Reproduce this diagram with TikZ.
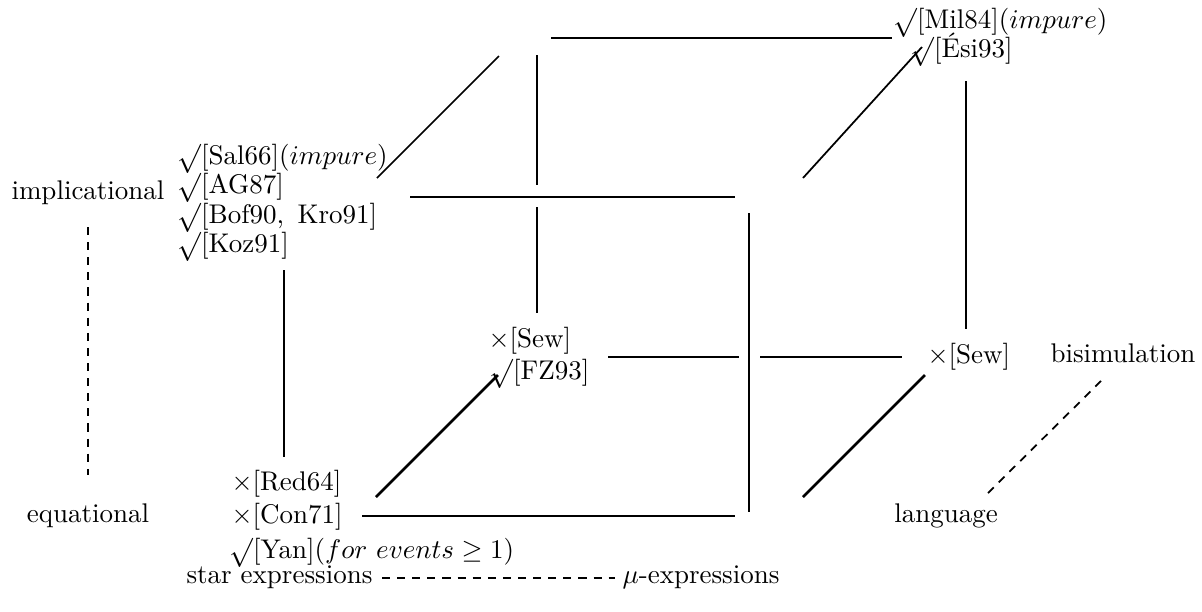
\documentclass[tikz,border=0pt]{standalone}
\usepackage{graphicx}
\newcommand\ck{\raisebox{-0.7pt}{\scalebox{1.05}[1.08]{$\surd$}}}
\begin{document}
\begin{tikzpicture}[x=0.3705pt,y=-0.3705pt,
 lbl/.style={inner sep=0pt, anchor=base west, font=\fontsize{10}{12}\selectfont},
 front/.style={line width=1pt},
 back/.style={line width=0.65pt},
 dsh/.style={line width=0.65pt, dash pattern=on 3pt off 2.6pt}]
\path[use as bounding box] (0,0) rectangle (1202,612);
% labels
\node[lbl, anchor=base] (impl) at (88,199) {implicational};
\node[lbl, anchor=base] (equa) at (88,522) {equational};
\node[lbl] (sal) at (177,164) {\ck[Sal66]$(impure)$};
\node[lbl] (ag) at (177,193) {\ck[AG87]};
\node[lbl] (bof) at (177,223) {\ck[Bof90,\enspace Kro91]};
\node[lbl] (koz) at (177,252) {\ck[Koz91]};
\node[lbl] (red) at (231,490) {$\times$[Red64]};
\node[lbl] (con) at (231,523) {$\times$[Con71]};
\node[lbl] (yan) at (229,558) {\ck[Yan]$(for\ events \geq 1)$};
\node[lbl] (sewm) at (488,347) {$\times$[Sew]};
\node[lbl] (fz) at (489,379) {\ck[FZ93]};
\node[lbl] (mil) at (893,28) {\ck[Mil84]$(impure)$};
\node[lbl] (esi) at (910,57) {\ck[\'Esi93]};
\node[lbl] (sewr) at (927,363) {$\times$[Sew]};
\node[lbl] (bis) at (1050,362) {bisimulation};
\node[lbl, anchor=base] (lang) at (946,522) {language};
\node[lbl, anchor=base east] (star) at (373,583) {star expressions};
\node[lbl] (mu) at (622,583) {$\mu$-expressions};
% endpoints
\coordinate (ftA) at (410,197); \coordinate (ftB) at (735,197);
\coordinate (flA) at (284,270); \coordinate (flB) at (284,457);
\coordinate (frA) at (749,213); \coordinate (frB) at (749,512);
\coordinate (fbA) at (362,516); \coordinate (fbB) at (735,516);
\coordinate (btA) at (551,38);  \coordinate (btB) at (892,38);
\coordinate (blA) at (537,55);  \coordinate (blB) at (537,185);
\coordinate (blC) at (537,207); \coordinate (blD) at (537,313);
\coordinate (brA) at (966,81);  \coordinate (brB) at (966,329);
\coordinate (bbA) at (608,357); \coordinate (bbB) at (739,357);
\coordinate (bbC) at (760,357); \coordinate (bbD) at (902,357);
\coordinate (tlA) at (377,178); \coordinate (tlB) at (499,56);
\coordinate (trA) at (803,178); \coordinate (trB) at (922,47);
\coordinate (dlA) at (376,497); \coordinate (dlB) at (498,375);
\coordinate (drA) at (803,497); \coordinate (drB) at (925,375);
\coordinate (v1) at (88,227); \coordinate (v2) at (88,475);
\coordinate (h1) at (382,578); \coordinate (h2) at (615,578);
\coordinate (d1) at (988,493); \coordinate (d2) at (1103,379);
% cube
\draw[front] (ftA) -- (ftB);
\draw[front] (flA) -- (flB);
\draw[front] (frA) -- (frB);
\draw[front] (fbA) -- (fbB);
\draw[back] (btA) -- (btB);
\draw[back] (blA) -- (blB);
\draw[back] (blC) -- (blD);
\draw[back] (brA) -- (brB);
\draw[back] (bbA) -- (bbB);
\draw[back] (bbC) -- (bbD);
\draw[back] (tlA) -- (tlB);
\draw[back] (trA) -- (trB);
\draw[front] (dlA) -- (dlB);
\draw[front] (drA) -- (drB);
% dashed axes
\draw[dsh] (v1) -- (v2);
\draw[dsh] (h1) -- (h2);
\draw[dsh] (d1) -- (d2);
\end{tikzpicture}
\end{document}
